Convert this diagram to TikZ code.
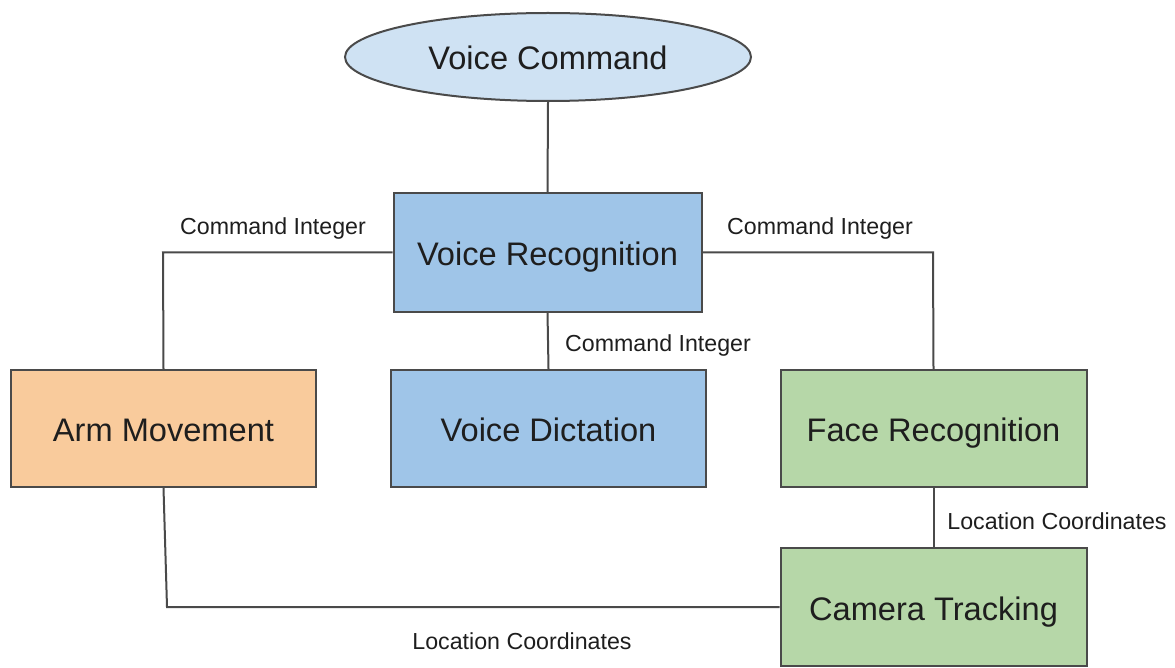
\documentclass[tikz,border=0pt]{standalone}
\usepackage{fontspec}
\setmainfont{Liberation Sans}
\usetikzlibrary{shapes.geometric}
\definecolor{lightblue}{HTML}{CFE2F3}
\definecolor{midblue}{HTML}{9FC5E8}
\definecolor{peach}{HTML}{F9CB9C}
\definecolor{lgreen}{HTML}{B6D7A8}
\definecolor{edge}{HTML}{4A4A4A}
\definecolor{txt}{HTML}{1E1E1E}
\tikzset{
  boxnode/.style={draw=edge, line width=2pt, rectangle, inner sep=0pt, text=txt,
    text height=26pt, text depth=-3pt,
    font=\fontsize{32.6}{38}\selectfont},
  ovalnode/.style={draw=edge, line width=2pt, ellipse, inner sep=0pt, text=txt,
    fill=lightblue, minimum width=406pt, minimum height=88pt,
    text height=26pt, text depth=-3pt,
    font=\fontsize{32.6}{38}\selectfont},
  conn/.style={draw=edge, line width=2pt},
  lbl/.style={text=txt, inner sep=0pt, text height=17pt, text depth=-2pt,
    font=\fontsize{23.2}{27}\selectfont}
}
\begin{document}
\begin{tikzpicture}[x=1pt,y=-1pt]
\useasboundingbox (0,0) rectangle (1175,668);
\node[ovalnode] (vc) at (548,57) {Voice Command};
\node[boxnode, fill=midblue, minimum width=308pt, minimum height=118pt] (vr) at (547.5,252.5) {Voice Recognition};
\node[boxnode, fill=peach, minimum width=305pt, minimum height=117pt] (am) at (163.5,428.5) {Arm Movement};
\node[boxnode, fill=midblue, minimum width=315pt, minimum height=117pt] (vd) at (548.5,428.5) {Voice Dictation};
\node[boxnode, fill=lgreen, minimum width=306pt, minimum height=117pt] (fr) at (933.5,428.5) {Face Recognition};
\node[boxnode, fill=lgreen, minimum width=306pt, minimum height=118pt] (ct) at (933.5,607) {Camera Tracking};
\coordinate (lc) at (163,252.5);
\coordinate (rc) at (933,252.5);
\coordinate (bc) at (167,607);
\draw[conn] (vc.south) -- (vr.north);
\draw[conn] (vr.west) -- (lc) -- (am.north);
\draw[conn] (vr.east) -- (rc) -- (fr.north);
\draw[conn] (vr.south) -- (vd.north);
\draw[conn] (fr.south) -- (ct.north);
\draw[conn] (am.south) -- (bc) -- (ct.west);
\node[lbl] (l1) at (273,226) {Command Integer};
\node[lbl] (l2) at (820,226) {Command Integer};
\node[lbl] (l3) at (658,343) {Command Integer};
\node[lbl] (l4) at (1057,521) {Location Coordinates};
\node[lbl] (l5) at (522,641) {Location Coordinates};
\end{tikzpicture}
\end{document}
